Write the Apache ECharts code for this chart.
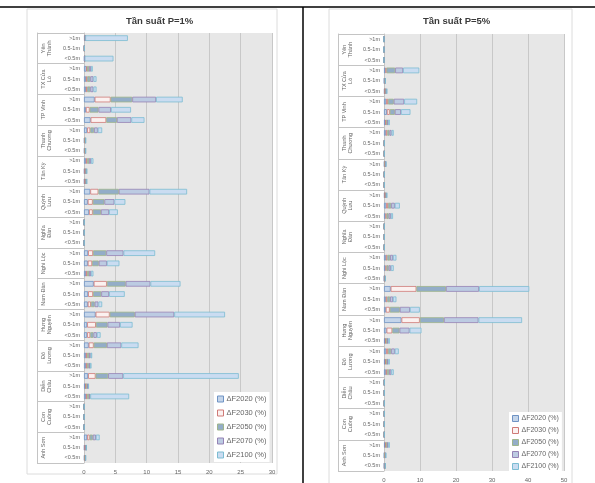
<!DOCTYPE html>
<html><head><meta charset="utf-8">
<script src="https://cdn.jsdelivr.net/npm/echarts@6/dist/echarts.min.js"></script>
<style>html,body{margin:0;padding:0;background:#fff}#c{width:595px;height:483px}</style>
</head><body><div id="c"></div>
<script>
// ---- categories ----
const districts = ['Yên Thành','TX Cửa Lò','TP Vinh','Thanh Chương','Tân Kỳ','Quỳnh Lưu','Nghĩa Đàn','Nghi Lộc','Nam Đàn','Hưng Nguyên','Đô Lương','Diễn Châu','Con Cuông','Anh Sơn'];
const districtLabels = ['Yên\nThành','TX Cửa\nLò','TP Vinh','Thanh\nChương','Tân Kỳ','Quỳnh\nLưu','Nghĩa\nĐàn','Nghi Lộc','Nam Đàn','Hưng\nNguyên','Đô\nLương','Diễn\nChâu','Con\nCuông','Anh Sơn'];
const depthLabels = ['>1m','0.5-1m','<0.5m'];
const seriesNames = ['ΔF2020 (%)','ΔF2030 (%)','ΔF2050 (%)','ΔF2070 (%)','ΔF2100 (%)'];
const titles = ['Tần suất P=1%','Tần suất P=5%'];
const xMaxP1 = 30, xStepP1 = 5;
const xMaxP5 = 50, xStepP5 = 10;

// ---- P=1% values (per district: >1m, 0.5-1m, <0.5m) ----
const p1F2020 = [0.2,0.05,0.1, 0.4,0.3,0.3, 1.7,0.3,1.05, 0.5,0.1,0.1, 0.3,0.1,0.1, 1.0,0.6,0.8, 0.02,0.02,0.02, 0.65,0.6,0.3, 1.55,0.65,0.6, 1.85,0.5,0.5, 0.75,0.3,0.3, 0.65,0.2,0.3, 0.02,0.02,0.02, 0.5,0.1,0.1];
const p1F2030 = [0,0,0, 0.1,0.2,0.2, 2.55,0.6,2.5, 0.5,0.05,0.05, 0.2,0.1,0.1, 1.3,0.8,0.6, 0,0,0, 0.8,0.7,0.2, 2.1,0.8,0.5, 2.25,1.4,0.5, 0.8,0.2,0.2, 1.2,0.1,0.2, 0,0,0, 0.4,0.1,0.05];
const p1F2050 = [0,0,0, 0.3,0.5,0.5, 3.45,1.4,1.7, 0.6,0.05,0.05, 0.3,0.1,0.1, 3.25,1.85,1.3, 0,0,0, 2.1,1.05,0.3, 3.0,1.3,0.6, 4.0,1.85,0.5, 2.1,0.3,0.25, 2.0,0.2,0.3, 0,0,0, 0.5,0.1,0.05];
const p1F2070 = [0,0,0, 0.3,0.5,0.5, 3.8,2.0,2.3, 0.6,0.05,0.05, 0.3,0.1,0.1, 4.9,1.6,1.3, 0,0,0, 2.75,1.3,0.3, 3.95,1.25,0.6, 6.3,2.0,0.55, 2.3,0.25,0.2, 2.4,0.15,0.2, 0,0,0, 0.5,0.05,0.05];
const p1F2100 = [6.8,0.05,4.6, 0.3,0.5,0.5, 4.25,3.2,2.1, 0.7,0.05,0.05, 0.4,0.1,0.1, 6.0,1.75,1.4, 0.03,0.03,0.03, 5.05,2.0,0.4, 4.8,2.5,0.6, 8.1,2.0,0.6, 2.75,0.25,0.25, 18.45,0.15,6.2, 0.03,0.03,0.03, 0.6,0.05,0.05];

// ---- P=5% values ----
const p5F2020 = [0,0,0, 0.4,0.1,0.2, 0.6,0.8,0.4, 0.5,0.05,0.05, 0.15,0.05,0.05, 0.2,0.6,0.4, 0.05,0.05,0.05, 0.5,0.4,0.1, 1.85,0.5,0.5, 4.85,0.7,0.3, 0.6,0.3,0.5, 0.05,0.05,0.05, 0.05,0.05,0.05, 0.3,0.1,0.1];
const p5F2030 = [0,0,0, 0.3,0.1,0.1, 0.5,0.8,0.2, 0.4,0,0, 0.1,0,0, 0.1,0.5,0.3, 0,0,0, 0.4,0.3,0.05, 7.15,0.4,1.1, 5.1,1.6,0.2, 0.5,0.2,0.3, 0,0,0, 0,0,0, 0.2,0.1,0.05];
const p5F2050 = [0,0,0, 2.4,0.1,0.2, 1.6,1.4,0.3, 0.6,0.05,0.05, 0.15,0.05,0.05, 0.2,0.9,0.6, 0.05,0.05,0.05, 0.8,0.6,0.1, 8.2,0.8,2.8, 6.7,2.0,0.35, 0.9,0.35,0.6, 0.05,0.05,0.05, 0.05,0.05,0.05, 0.35,0.15,0.1];
const p5F2070 = [0,0,0, 2.2,0.05,0.2, 2.9,1.7,0.3, 0.6,0,0, 0.1,0,0, 0.2,1.0,0.6, 0,0,0, 0.8,0.6,0.1, 9.2,0.8,2.8, 9.6,2.8,0.35, 1.0,0.35,0.6, 0,0,0, 0,0,0, 0.35,0.1,0.1];
const p5F2100 = [0,0,0, 4.5,0.05,0.2, 3.6,2.65,0.4, 0.6,0,0, 0.15,0,0, 0.2,1.4,0.6, 0,0,0, 0.95,0.8,0.1, 13.95,0.95,2.75, 12.1,3.3,0.4, 1.1,0.4,0.7, 0,0,0, 0,0,0, 0.4,0.15,0.05];

const p1Data = [p1F2020,p1F2030,p1F2050,p1F2070,p1F2100];
const p5Data = [p5F2020,p5F2030,p5F2050,p5F2070,p5F2100];

// ---- styles ----
const fills   = ['#c4d5ea','#fbf1f0','#93adc8','#bccbe2','#cadcf1'];
const borders = ['#6f93c4','#cf7a77','#9fb58c','#9583b5','#7cbcd2'];
const txt = '#666666';
const FONT = 'Liberation Sans';

const cats = [];
districts.forEach(d => depthLabels.forEach(l => cats.push(d + '|' + l)));

function xAxisFor(g, max, step) {
  return {
    gridIndex: g, type: 'value', min: 0, max: max, interval: step,
    axisLine: {show: false}, axisTick: {show: false},
    axisLabel: {fontSize: 6, color: txt, fontFamily: FONT, margin: 6},
    splitLine: {show: true, lineStyle: {color: '#c8c8c8', width: 1}}
  };
}
function innerY(g) {
  return {
    gridIndex: g, type: 'category', data: cats, inverse: true,
    axisLine: {show: true, lineStyle: {color: '#c4c4c4'}},
    axisTick: {show: false},
    axisLabel: {fontSize: 5.5, color: txt, fontFamily: FONT, margin: 4,
      formatter: v => v.split('|')[1]}
  };
}
function outerY(g, off) {
  return {
    gridIndex: g, type: 'category', data: districtLabels, inverse: true,
    position: 'left', offset: off,
    axisLine: {show: true, lineStyle: {color: '#c4c4c4'}},
    axisTick: {show: true, inside: true, length: off, alignWithLabel: false, lineStyle: {color: '#c4c4c4'}},
    axisLabel: {inside: true, rotate: 90, fontSize: 5.5, lineHeight: 6, color: txt, fontFamily: FONT, margin: 3},
    splitLine: {show: false}
  };
}

const series = [];
seriesNames.forEach((n, i) => {
  series.push({type: 'bar', name: n, stack: 'p1', xAxisIndex: 0, yAxisIndex: 0,
    data: p1Data[i], barWidth: '55%',
    itemStyle: {color: fills[i], borderColor: borders[i], borderWidth: 0.8}});
  series.push({type: 'bar', name: n, stack: 'p5', xAxisIndex: 1, yAxisIndex: 2,
    data: p5Data[i], barWidth: '55%',
    itemStyle: {color: fills[i], borderColor: borders[i], borderWidth: 0.8}});
});

function legendAt(left, top, fs, gap) {
  return {
    data: seriesNames, orient: 'vertical', left: left, top: top,
    itemWidth: 6, itemHeight: 6, itemGap: gap, icon: 'rect',
    backgroundColor: '#ffffff', padding: [3, 3, 3, 3],
    itemStyle: {borderWidth: 1},
    textStyle: {fontSize: fs, color: txt, fontFamily: FONT, padding: [0,0,0,-2]},
    selectedMode: false
  };
}

const option = {
  animation: false,
  backgroundColor: '#ffffff',
  textStyle: {fontFamily: FONT},
  title: [
    {text: titles[0], left: 126, top: 16, padding: 0,
      textStyle: {fontSize: 9.5, fontWeight: 'bold', color: '#3a3a3a', fontFamily: FONT}},
    {text: titles[1], left: 423, top: 16, padding: 0,
      textStyle: {fontSize: 9.5, fontWeight: 'bold', color: '#3a3a3a', fontFamily: FONT}}
  ],
  grid: [
    {left: 84, top: 33, width: 188, height: 430, show: true, backgroundColor: '#e7e7e7', borderWidth: 0, containLabel: false},
    {left: 384, top: 34, width: 180, height: 439, show: true, backgroundColor: '#e7e7e7', borderWidth: 0, containLabel: false}
  ],
  xAxis: [xAxisFor(0, xMaxP1, xStepP1), xAxisFor(1, xMaxP5, xStepP5)],
  yAxis: [innerY(0), outerY(0, 47), innerY(1), outerY(1, 46)],
  legend: [legendAt(214, 392, 7.5, 6), legendAt(509, 412, 7, 5)],
  series: series,
  graphic: [
    {type: 'rect', shape: {x: 27, y: 9, width: 250, height: 465}, style: {fill: 'none', stroke: '#dcdcdc', lineWidth: 1}, z: -1},
    {type: 'rect', shape: {x: 329, y: 9, width: 243, height: 480}, style: {fill: 'none', stroke: '#dcdcdc', lineWidth: 1}, z: -1},
    {type: 'line', shape: {x1: 0, y1: 7, x2: 595, y2: 7}, style: {stroke: '#000', lineWidth: 1.5}},
    {type: 'line', shape: {x1: 303, y1: 7, x2: 303, y2: 483}, style: {stroke: '#000', lineWidth: 1.5}}
  ]
};

const chart = echarts.init(document.getElementById('c'), null, {renderer: 'canvas'});
chart.setOption(option);
</script>
</body></html>
